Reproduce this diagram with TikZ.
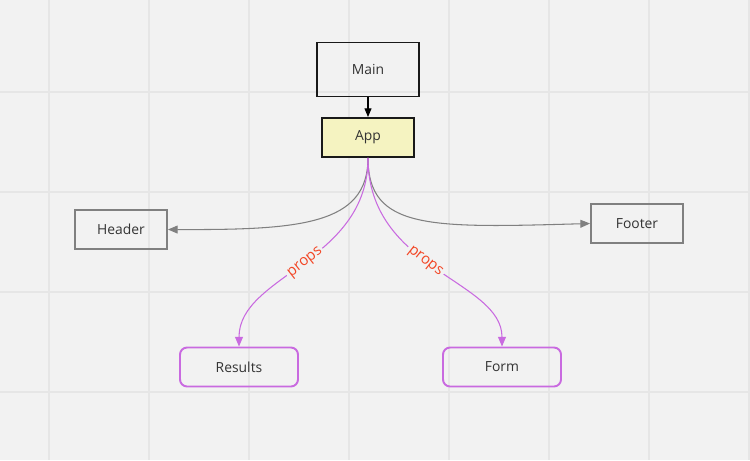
\documentclass[tikz,border=0pt]{standalone}
\usepackage{fontspec}
\setmainfont{Open Sans}
\usepackage{xcolor}
\usepackage{tikz}
\usetikzlibrary{arrows.meta}

\definecolor{bggray}{RGB}{242,242,242}
\definecolor{gridgray}{RGB}{230,230,230}
\definecolor{boxgray}{RGB}{128,128,128}
\definecolor{txtgray}{RGB}{51,51,51}
\definecolor{appyellow}{RGB}{245,243,193}
\definecolor{propspurple}{RGB}{201,106,224}
\definecolor{propsred}{RGB}{242,71,38}

\begin{document}
\begin{tikzpicture}[x=0.02cm, y=-0.02cm,
    comp/.style={draw, line width=1.1pt, minimum width=1.84cm, minimum height=0.78cm, text=txtgray, font=\fontsize{7.9}{9}\selectfont},
    child/.style={comp, draw=propspurple, rounded corners=4pt, minimum width=2.36cm},
    link/.style={draw=boxgray, line width=0.6pt, -{Triangle[width=4.5pt,length=5.5pt]}},
    proplink/.style={draw=propspurple, line width=0.6pt, -{Triangle[width=4.5pt,length=5.5pt]}},
    props/.style={fill=bggray, inner sep=1.2pt, text=propsred, font=\fontsize{8.5}{9}\selectfont, sloped}]

%Canvas
\fill[bggray] (0,0) rectangle (750,460);
\useasboundingbox (0,0) rectangle (750,460);
\foreach \gx in {49,149,...,749} \draw[gridgray, line width=0.8pt] (\gx,0) -- (\gx,460);
\foreach \gy in {92,192,292,392} \draw[gridgray, line width=0.8pt] (0,\gy) -- (750,\gy);

%Nodes
\node[comp, draw=black!90, minimum width=2.04cm, minimum height=1.08cm] (main) at (368,69.5) {Main};
\node[comp, draw=black!90, fill=appyellow] (app) at (368,137.5) {App};
\node[comp, draw=boxgray] (header) at (121,229.5) {Header};
\node[comp, draw=boxgray] (footer) at (637,223.5) {Footer};
\node[child] (results) at (239,367) {Results};
\node[child] (form) at (502,367) {Form};

%Connectors
\draw[line width=0.6pt, -{Triangle[width=4pt,length=5pt]}] (main) -- (app);
\draw[link] (app.south) .. controls (368,225) and (300,230) .. (header.east);
\draw[link] (app.south) .. controls (368,230) and (430,228) .. (footer.west);
\draw[proplink] (app.south) .. controls (368,262) and (239,275) .. (results.north)
  node[props, pos=0.49] {props};
\draw[proplink] (app.south) .. controls (368,270) and (502,280) .. (form.north)
  node[props, pos=0.45] {props};

\end{tikzpicture}
\end{document}
